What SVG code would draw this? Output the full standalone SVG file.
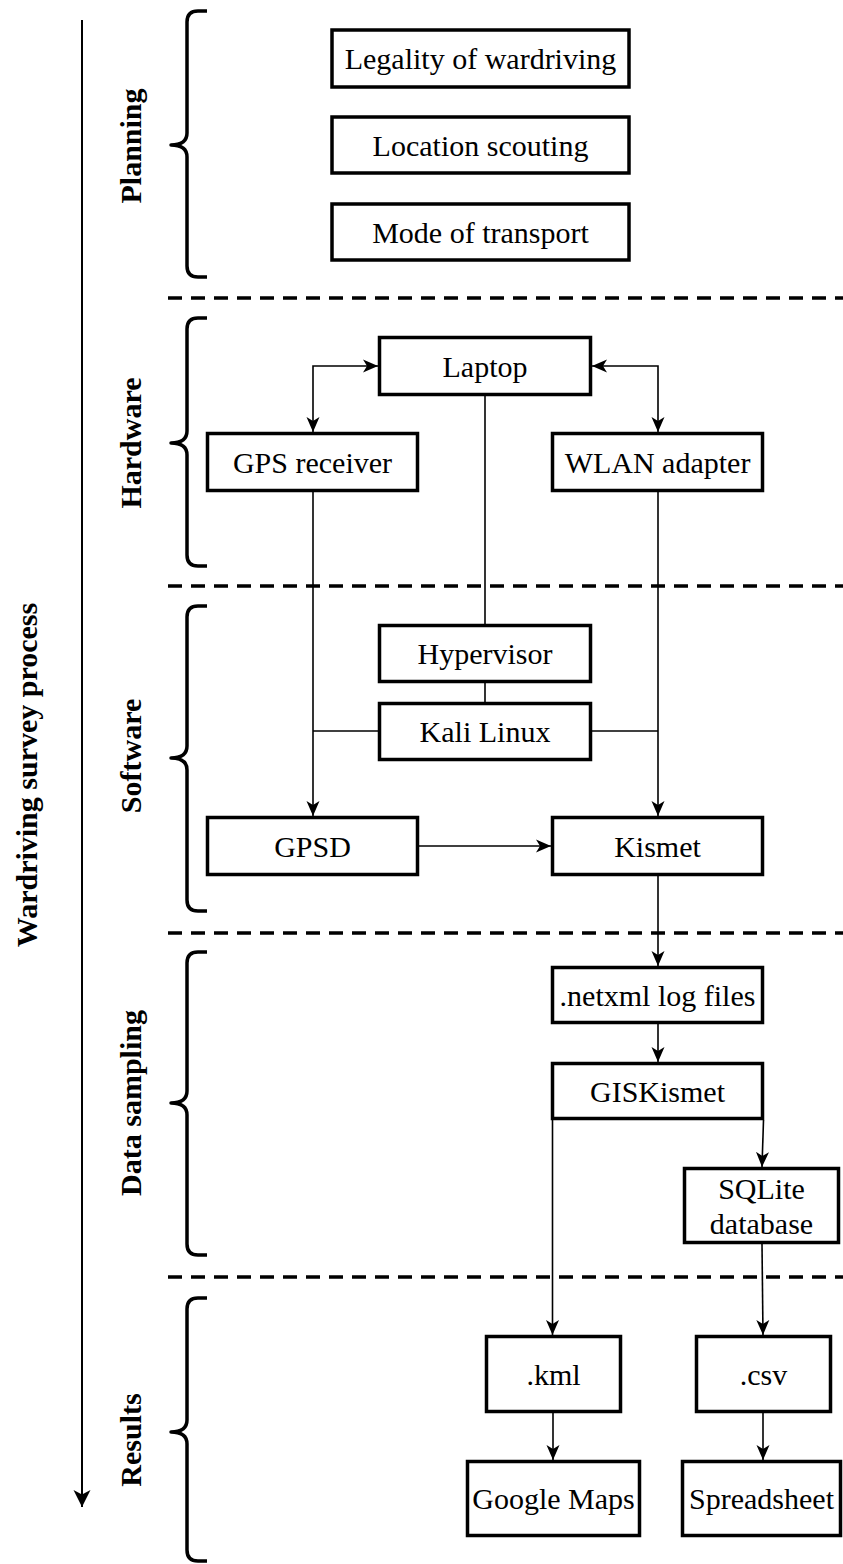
<svg xmlns="http://www.w3.org/2000/svg" width="843" height="1564" viewBox="0 0 843 1564">
  <style>
    .box { fill: #fff; stroke: #000; stroke-width: 3.5; }
    .lbl { font-family: "Liberation Serif", "Times New Roman", serif; font-size: 30px; fill: #000; text-anchor: middle; }
    .sec { font-family: "Liberation Serif", "Times New Roman", serif; font-size: 30px; font-weight: bold; fill: #000; text-anchor: middle; }
    .brace { fill: none; stroke: #000; stroke-width: 3.5; stroke-linejoin: round; }
    .divider { stroke: #000; stroke-width: 3.5; stroke-dasharray: 14 9; }
    .wire { fill: none; stroke: #000; stroke-width: 1.6; }
    .arr { marker-end: url(#head); }
  </style>
  <defs>
    <marker id="head" markerUnits="userSpaceOnUse" markerWidth="16" markerHeight="14" refX="15" refY="7" orient="auto-start-reverse">
      <path d="M0,0.5 L15,7 L0,13.5 L4,7 Z" fill="#000"/>
    </marker>
    <marker id="bighead" markerUnits="userSpaceOnUse" markerWidth="18" markerHeight="18" refX="17" refY="8.5" orient="auto">
      <path d="M0,0 L17,8.5 L0,17 L4.5,8.5 Z" fill="#000"/>
    </marker>
  </defs>

  <!-- process axis -->
  <g id="axis">
    <line x1="82" y1="20" x2="82" y2="1507" stroke="#000" stroke-width="2" marker-end="url(#bighead)"/>
    <text class="sec" transform="translate(37,775) rotate(-90)">Wardriving survey process</text>
  </g>

  <!-- phase dividers -->
  <g id="dividers">
    <line class="divider" x1="168" y1="298" x2="843" y2="298"/>
    <line class="divider" x1="168" y1="586" x2="843" y2="586"/>
    <line class="divider" x1="168" y1="933" x2="843" y2="933"/>
    <line class="divider" x1="168" y1="1277" x2="843" y2="1277"/>
  </g>

  <!-- phase braces and titles -->
  <g id="phase-planning">
    <path class="brace" d="M207,11 H198 Q187,11 187,22 V133 Q187,145 171,145 Q187,145 187,157 V266 Q187,277 198,277 H207"/>
    <text class="sec" transform="translate(141,146) rotate(-90)">Planning</text>
  </g>
  <g id="phase-hardware">
    <path class="brace" d="M207,318 H198 Q187,318 187,329 V431 Q187,443 171,443 Q187,443 187,455 V555 Q187,566 198,566 H207"/>
    <text class="sec" transform="translate(141,443) rotate(-90)">Hardware</text>
  </g>
  <g id="phase-software">
    <path class="brace" d="M207,606 H198 Q187,606 187,617 V746 Q187,758 171,758 Q187,758 187,770 V900 Q187,911 198,911 H207"/>
    <text class="sec" transform="translate(141,756) rotate(-90)">Software</text>
  </g>
  <g id="phase-sampling">
    <path class="brace" d="M207,952 H198 Q187,952 187,963 V1091 Q187,1103 171,1103 Q187,1103 187,1115 V1244 Q187,1255 198,1255 H207"/>
    <text class="sec" transform="translate(141,1103) rotate(-90)">Data sampling</text>
  </g>
  <g id="phase-results">
    <path class="brace" d="M207,1298 H198 Q187,1298 187,1309 V1420 Q187,1432 171,1432 Q187,1432 187,1444 V1550 Q187,1561 198,1561 H207"/>
    <text class="sec" transform="translate(141,1440) rotate(-90)">Results</text>
  </g>

  <!-- connectors -->
  <g id="connectors" class="wire">
    <path d="M378,366 H313 V432" marker-start="url(#head)" marker-end="url(#head)"/>
    <path d="M592,366 H658 V432" marker-start="url(#head)" marker-end="url(#head)"/>
    <path d="M485,396 V625"/>
    <path d="M485,683 V703"/>
    <path d="M313,492 V816" class="arr"/>
    <path d="M378,731 H313"/>
    <path d="M658,492 V816" class="arr"/>
    <path d="M592,731 H658"/>
    <path d="M419,846 H551" class="arr"/>
    <path d="M658,876 V966" class="arr"/>
    <path d="M658,1024 V1062" class="arr"/>
    <path d="M763.5,1120 L762,1167" class="arr"/>
    <path d="M552.5,1120 V1335" class="arr"/>
    <path d="M762,1244 L763,1335" class="arr"/>
    <path d="M553,1413 V1460" class="arr"/>
    <path d="M763,1413 V1460" class="arr"/>
  </g>

  <!-- planning -->
  <g id="legality">
    <rect class="box" x="332" y="30" width="297" height="57"/>
    <text class="lbl" x="480.5" y="69">Legality of wardriving</text>
  </g>
  <g id="location">
    <rect class="box" x="332" y="117" width="297" height="56"/>
    <text class="lbl" x="480.5" y="155.5">Location scouting</text>
  </g>
  <g id="transport">
    <rect class="box" x="332" y="204" width="297" height="56"/>
    <text class="lbl" x="480.5" y="242.5">Mode of transport</text>
  </g>

  <!-- hardware -->
  <g id="laptop">
    <rect class="box" x="379.5" y="337.5" width="211" height="57"/>
    <text class="lbl" x="485" y="376.5">Laptop</text>
  </g>
  <g id="gps-receiver">
    <rect class="box" x="207.5" y="433.5" width="210" height="57"/>
    <text class="lbl" x="312.5" y="472.5">GPS receiver</text>
  </g>
  <g id="wlan-adapter">
    <rect class="box" x="552.5" y="433.5" width="210" height="57"/>
    <text class="lbl" x="657.5" y="472.5">WLAN adapter</text>
  </g>

  <!-- software -->
  <g id="hypervisor">
    <rect class="box" x="379.5" y="625.5" width="211" height="56"/>
    <text class="lbl" x="485" y="664">Hypervisor</text>
  </g>
  <g id="kali">
    <rect class="box" x="379.5" y="703.5" width="211" height="56"/>
    <text class="lbl" x="485" y="742">Kali Linux</text>
  </g>
  <g id="gpsd">
    <rect class="box" x="207.5" y="817.5" width="210" height="57"/>
    <text class="lbl" x="312.5" y="856.5">GPSD</text>
  </g>
  <g id="kismet">
    <rect class="box" x="552.5" y="817.5" width="210" height="57"/>
    <text class="lbl" x="657.5" y="856.5">Kismet</text>
  </g>

  <!-- data sampling -->
  <g id="netxml">
    <rect class="box" x="552.5" y="967.5" width="210" height="55"/>
    <text class="lbl" x="657.5" y="1005.5">.netxml log files</text>
  </g>
  <g id="giskismet">
    <rect class="box" x="552.5" y="1063.5" width="210" height="55"/>
    <text class="lbl" x="657.5" y="1101.5">GISKismet</text>
  </g>
  <g id="sqlite">
    <rect class="box" x="684.5" y="1168.5" width="154" height="74"/>
    <text class="lbl" x="761.5" y="1199">SQLite</text>
    <text class="lbl" x="761.5" y="1234">database</text>
  </g>

  <!-- results -->
  <g id="kml">
    <rect class="box" x="486.5" y="1336.5" width="134" height="75"/>
    <text class="lbl" x="553.5" y="1384.5">.kml</text>
  </g>
  <g id="csv">
    <rect class="box" x="696.5" y="1336.5" width="134" height="75"/>
    <text class="lbl" x="763.5" y="1384.5">.csv</text>
  </g>
  <g id="google-maps">
    <rect class="box" x="467.5" y="1461.5" width="172" height="74"/>
    <text class="lbl" x="553.5" y="1509">Google Maps</text>
  </g>
  <g id="spreadsheet">
    <rect class="box" x="682.5" y="1461.5" width="158" height="74"/>
    <text class="lbl" x="761.5" y="1509">Spreadsheet</text>
  </g>
</svg>
